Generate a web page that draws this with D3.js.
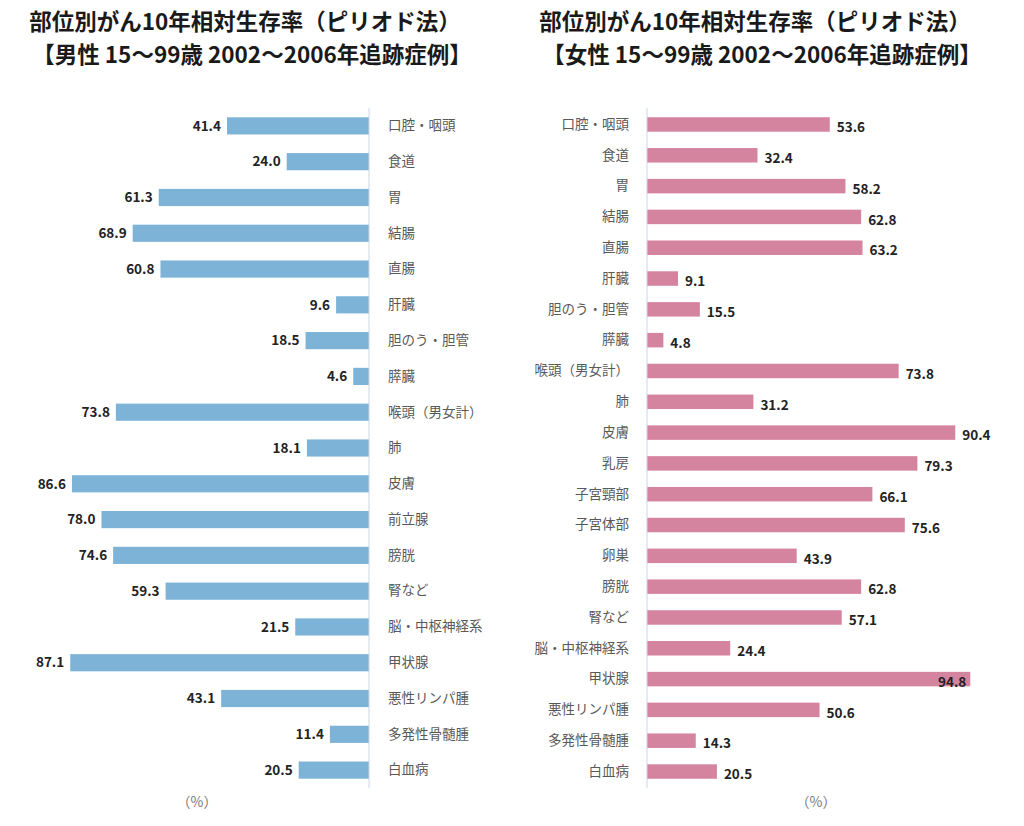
<!DOCTYPE html>
<html>
<head>
<meta charset="utf-8">
<script src="https://cdn.jsdelivr.net/npm/d3@7"></script>
<style>
  html, body { margin: 0; padding: 0; background: #fff; }
  svg { display: block; }
  text { font-family: "Noto Sans CJK JP", "Noto Sans", sans-serif; }
</style>
</head>
<body>
<svg id="chart" width="1024" height="826"></svg>
<script>
// ---- Data ----
const titleLine1 = "部位別がん10年相対生存率（ピリオド法）";
const maleTitle2 = "【男性 15～99歳 2002～2006年追跡症例】";
const femaleTitle2 = "【女性 15～99歳 2002～2006年追跡症例】";
const unitLabel = "（%）";

const maleSites = ["口腔・咽頭","食道","胃","結腸","直腸","肝臓","胆のう・胆管","膵臓","喉頭（男女計）","肺","皮膚","前立腺","膀胱","腎など","脳・中枢神経系","甲状腺","悪性リンパ腫","多発性骨髄腫","白血病"];
const maleValues = [41.4,24.0,61.3,68.9,60.8,9.6,18.5,4.6,73.8,18.1,86.6,78.0,74.6,59.3,21.5,87.1,43.1,11.4,20.5];

const femaleSites = ["口腔・咽頭","食道","胃","結腸","直腸","肝臓","胆のう・胆管","膵臓","喉頭（男女計）","肺","皮膚","乳房","子宮頸部","子宮体部","卵巣","膀胱","腎など","脳・中枢神経系","甲状腺","悪性リンパ腫","多発性骨髄腫","白血病"];
const femaleValues = [53.6,32.4,58.2,62.8,63.2,9.1,15.5,4.8,73.8,31.2,90.4,79.3,66.1,75.6,43.9,62.8,57.1,24.4,94.8,50.6,14.3,20.5];

const svg = d3.select("#chart");

// ---- Titles ----
function titles(cx1, cx2, line2) {
  svg.append("text").attr("x", cx1).attr("y", 30).attr("text-anchor", "middle")
    .attr("font-size", 22.5).attr("font-weight", "bold").attr("fill", "#1a1a1a").text(titleLine1);
  svg.append("text").attr("x", cx2).attr("y", 63).attr("text-anchor", "middle")
    .attr("font-size", 22.5).attr("font-weight", "bold").attr("fill", "#1a1a1a").text(line2);
}
titles(245, 252, maleTitle2);
titles(755, 762, femaleTitle2);

// ---- Male chart (bars grow leftwards) ----
(function(){
  const axisX = 369;
  const x = d3.scaleLinear().domain([0, 100]).range([axisX, axisX - 343]);
  const y = d3.scaleBand().domain(maleSites).range([108, 788]).paddingInner(0.52).paddingOuter(0.26);
  const g = svg.append("g");
  const data = maleSites.map((s, i) => ({s, v: maleValues[i]}));
  g.selectAll("rect").data(data).join("rect")
    .attr("x", d => x(d.v)).attr("y", d => y(d.s))
    .attr("width", d => x(0) - x(d.v)).attr("height", y.bandwidth())
    .attr("fill", "#7db3d7");
  g.selectAll("text.val").data(data).join("text").attr("class", "val")
    .attr("x", d => x(d.v) - 6).attr("y", d => y(d.s) + y.bandwidth() / 2)
    .attr("dy", "0.35em").attr("text-anchor", "end")
    .attr("font-size", 13.5).attr("font-weight", "bold").attr("fill", "#222")
    .text(d => d.v.toFixed(1));
  const ax = d3.axisRight(y).tickSize(0).tickPadding(19);
  const axg = g.append("g").attr("transform", `translate(${axisX},0)`).call(ax);
  axg.select(".domain").remove();
  axg.selectAll("text").attr("font-size", 13.5).attr("fill", "#595959")
    .style("font-family", "'Noto Sans CJK JP', sans-serif");
  g.append("line").attr("x1", axisX).attr("x2", axisX).attr("y1", 108).attr("y2", 788)
    .attr("stroke", "#c9d6e6").attr("stroke-width", 1);
  svg.append("text").attr("x", 197).attr("y", 807).attr("text-anchor", "middle")
    .attr("font-size", 14).attr("fill", "#7a7a7a").text(unitLabel);
})();

// ---- Female chart (bars grow rightwards) ----
(function(){
  const axisX = 647;
  const x = d3.scaleLinear().domain([0, 100]).range([axisX, axisX + 341]);
  const y = d3.scaleBand().domain(femaleSites).range([108, 788]).paddingInner(0.53).paddingOuter(0.3);
  const g = svg.append("g");
  const data = femaleSites.map((s, i) => ({s, v: femaleValues[i]}));
  g.selectAll("rect").data(data).join("rect")
    .attr("x", x(0)).attr("y", d => y(d.s))
    .attr("width", d => x(d.v) - x(0)).attr("height", y.bandwidth())
    .attr("fill", "#d4849f");
  const limit = 1000;
  const inside = d => x(d.v) + 40 > limit;
  g.selectAll("text.val").data(data).join("text").attr("class", "val")
    .attr("x", d => inside(d) ? x(d.v) - 4 : x(d.v) + 7)
    .attr("text-anchor", d => inside(d) ? "end" : "start")
    .attr("y", d => y(d.s) + y.bandwidth() / 2 + 3)
    .attr("dy", "0.35em")
    .attr("font-size", 13.5).attr("font-weight", "bold").attr("fill", "#222")
    .text(d => d.v.toFixed(1));
  const ax = d3.axisLeft(y).tickSize(0).tickPadding(18);
  const axg = g.append("g").attr("transform", `translate(${axisX},0)`).call(ax);
  axg.select(".domain").remove();
  axg.selectAll("text").attr("font-size", 13.5).attr("fill", "#595959")
    .style("font-family", "'Noto Sans CJK JP', sans-serif");
  g.append("line").attr("x1", axisX).attr("x2", axisX).attr("y1", 108).attr("y2", 788)
    .attr("stroke", "#c9d6e6").attr("stroke-width", 1);
  svg.append("text").attr("x", 816).attr("y", 807).attr("text-anchor", "middle")
    .attr("font-size", 14).attr("fill", "#7a7a7a").text(unitLabel);
})();
</script>
</body>
</html>
